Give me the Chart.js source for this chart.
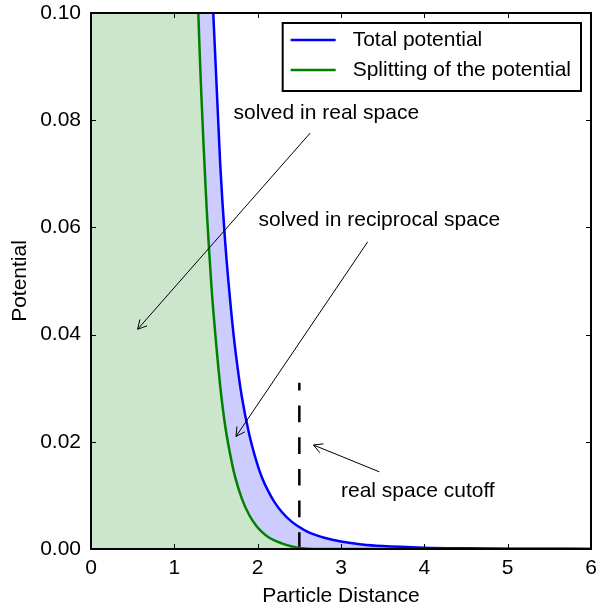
<!DOCTYPE html>
<html><head><meta charset="utf-8">
<script src="https://cdn.jsdelivr.net/npm/chart.js@4.4.1/dist/chart.umd.min.js"></script>
<style>html,body{margin:0;padding:0;background:#fff;}#wrap{width:597px;height:607px;}</style>
</head><body><div id="wrap"><canvas id="c" width="597" height="607"></canvas></div>
<script>
// ---- data ----
const distance = [0, 1.0, 1.2, 1.29, 1.38, 1.45, 1.47, 1.55, 1.61, 1.69, 1.73, 1.81, 1.9, 1.99, 2.05, 2.13, 2.2, 2.29, 2.4, 2.5, 2.6, 2.7, 2.8, 3.0, 3.25, 3.5, 4.0, 4.5, 5.0, 5.5, 6.0];
const totalPotential = [3.0, 1.0, 0.335, 0.217, 0.145, 0.108, 0.099, 0.072, 0.0573, 0.0431, 0.0374, 0.0284, 0.0213, 0.0161, 0.0134, 0.0107, 0.0088, 0.0069, 0.0052, 0.0041, 0.0032, 0.0026, 0.0021, 0.0014, 0.00085, 0.00054, 0.00024, 0.00012, 0.00006, 0.00004, 0.00002];
const splitPotential = [2.0, 0.5, 0.152, 0.099, 0.066, 0.048, 0.044, 0.0305, 0.0230, 0.0161, 0.0134, 0.0094, 0.0063, 0.0042, 0.0032, 0.0022, 0.0016, 0.00105, 0.0005, 0.00018, 0.00006, 0.00002, 0.00001, 0, 0, 0, 0, 0, 0, 0, 0];
const cutoffX = [2.5, 2.5];
const cutoffY = [0, 0.031];
const seriesLabels = ['Total potential', 'Splitting of the potential'];
const xTicks = [0, 1, 2, 3, 4, 5, 6];
const yTicks = [0, 0.02, 0.04, 0.06, 0.08, 0.10];
const xTitle = 'Particle Distance';
const yTitle = 'Potential';
const annotationTexts = ['solved in real space', 'solved in reciprocal space', 'real space cutoff'];
const annotationTextX = [1.71, 2.01, 3.0];
const annotationTextY = [0.0813, 0.0613, 0.0107];
const arrowTailX = [2.63, 3.32, 3.46];
const arrowTailY = [0.0776, 0.0573, 0.0144];
const arrowHeadX = [0.56, 1.74, 2.67];
const arrowHeadY = [0.041, 0.021, 0.0194];

// ---- styling ----
const FAMILY = '"Liberation Sans", Arial, Helvetica, sans-serif';
const FSIZE = 21;
const FONT = { family: FAMILY, size: FSIZE };
const CSSFONT = FSIZE + 'px ' + FAMILY;
const BLUE = '#0000ff', GREEN = '#008000';

const toPts = (xs, ys) => xs.map((x, i) => ({ x: x, y: ys[i] }));

function drawArrow(ctx, x1, y1, x2, y2) {
  ctx.beginPath(); ctx.moveTo(x1, y1); ctx.lineTo(x2, y2); ctx.stroke();
  const ang = Math.atan2(y1 - y2, x1 - x2);
  const L = 10, w = 0.5;
  ctx.beginPath();
  ctx.moveTo(x2 + L * Math.cos(ang + w), y2 + L * Math.sin(ang + w));
  ctx.lineTo(x2, y2);
  ctx.lineTo(x2 + L * Math.cos(ang - w), y2 + L * Math.sin(ang - w));
  ctx.stroke();
}

const decor = {
  id: 'decor',
  afterDatasetsDraw(chart) {
    const { ctx, chartArea: a, scales: { x, y } } = chart;
    ctx.save();
    ctx.fillStyle = '#000'; ctx.strokeStyle = '#000'; ctx.lineWidth = 1;
    ctx.font = CSSFONT; ctx.textBaseline = 'middle'; ctx.textAlign = 'left';
    annotationTexts.forEach((t, i) => {
      ctx.fillText(t, x.getPixelForValue(annotationTextX[i]), y.getPixelForValue(annotationTextY[i]));
      drawArrow(ctx, x.getPixelForValue(arrowTailX[i]), y.getPixelForValue(arrowTailY[i]),
                x.getPixelForValue(arrowHeadX[i]), y.getPixelForValue(arrowHeadY[i]));
    });
    ctx.lineWidth = 1;
    const T = 5;
    xTicks.forEach(v => {
      const p = Math.round(x.getPixelForValue(v)) + 0.5;
      ctx.beginPath(); ctx.moveTo(p, a.bottom); ctx.lineTo(p, a.bottom - T);
      ctx.moveTo(p, a.top); ctx.lineTo(p, a.top + T); ctx.stroke();
    });
    yTicks.forEach(v => {
      const p = Math.round(y.getPixelForValue(v)) + 0.5;
      ctx.beginPath(); ctx.moveTo(a.left, p); ctx.lineTo(a.left + T, p);
      ctx.moveTo(a.right, p); ctx.lineTo(a.right - T, p); ctx.stroke();
    });
    ctx.lineWidth = 2;
    ctx.strokeRect(a.left, a.top, a.right - a.left, a.bottom - a.top);
    const labels = chart.data.datasets.filter(d => seriesLabels.includes(d.label));
    let tw = 0; labels.forEach(d => { tw = Math.max(tw, ctx.measureText(d.label).width); });
    const bw = 70 + tw + 10, bh = 68;
    const bx = a.right - 10 - bw, by = a.top + 10;
    ctx.fillStyle = '#fff'; ctx.fillRect(bx, by, bw, bh);
    ctx.strokeStyle = '#000'; ctx.lineWidth = 2; ctx.strokeRect(bx, by, bw, bh);
    labels.forEach((d, i) => {
      const ry = by + 17 + i * 30;
      ctx.strokeStyle = d.borderColor; ctx.lineWidth = 2.5;
      ctx.beginPath(); ctx.moveTo(bx + 8, ry); ctx.lineTo(bx + 53, ry); ctx.stroke();
      ctx.fillStyle = '#000'; ctx.fillText(d.label, bx + 70, ry);
    });
    ctx.restore();
  }
};

new Chart(document.getElementById('c'), {
  type: 'line',
  data: {
    datasets: [
      { label: seriesLabels[0], data: toPts(distance, totalPotential), borderColor: BLUE, borderWidth: 2.5,
        backgroundColor: 'rgba(0,0,255,0.2)', fill: 1, pointRadius: 0, cubicInterpolationMode: 'monotone' },
      { label: seriesLabels[1], data: toPts(distance, splitPotential), borderColor: GREEN, borderWidth: 2.5,
        backgroundColor: 'rgba(0,128,0,0.2)', fill: 'origin', pointRadius: 0, cubicInterpolationMode: 'monotone' },
      { label: 'cutoff', data: toPts(cutoffX, cutoffY), borderColor: '#000', borderWidth: 2.5,
        borderDash: [16.7, 15], fill: false, pointRadius: 0 }
    ]
  },
  options: {
    responsive: false, animation: false, events: [],
    layout: { padding: { top: 13, right: 6, left: 0, bottom: 0 } },
    plugins: { legend: { display: false }, tooltip: { enabled: false },
      filler: { propagate: false, drawTime: 'beforeDatasetsDraw' } },
    scales: {
      x: {
        type: 'linear', min: 0, max: 6,
        afterBuildTicks: s => { s.ticks = xTicks.map(v => ({ value: v })); },
        afterFit: s => { s.height = 58; s.paddingLeft = 0; s.paddingRight = 0; s.paddingTop = 0; s.paddingBottom = 0; },
        ticks: { font: FONT, color: '#000', padding: 7, maxRotation: 0, autoSkip: false, callback: v => String(v) },
        grid: { display: false, drawTicks: false }, border: { display: false },
        title: { display: true, text: xTitle, font: FONT, color: '#000', padding: { top: 0, bottom: -2 } }
      },
      y: {
        type: 'linear', min: 0, max: 0.1,
        afterBuildTicks: s => { s.ticks = yTicks.map(v => ({ value: v })); },
        afterFit: s => { s.width = 91; s.paddingLeft = 0; s.paddingRight = 0; s.paddingTop = 0; s.paddingBottom = 0; },
        ticks: { font: FONT, color: '#000', padding: 10, autoSkip: false, callback: v => Number(v).toFixed(2) },
        grid: { display: false, drawTicks: false }, border: { display: false },
        title: { display: true, text: yTitle, font: FONT, color: '#000', padding: { top: 8, bottom: 0 } }
      }
    }
  },
  plugins: [decor]
});
</script>
</body></html>
